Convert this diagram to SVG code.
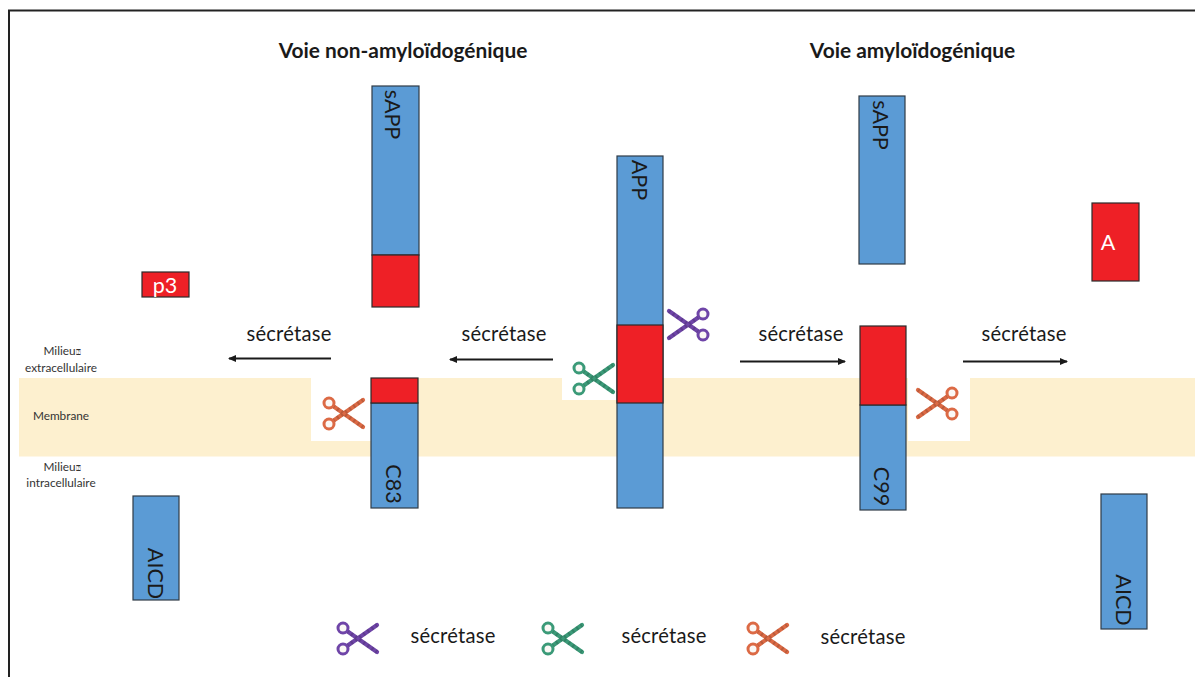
<svg xmlns="http://www.w3.org/2000/svg" width="1195" height="677" viewBox="0 0 1195 677">
<style>
text{font-family:"Lato","Liberation Sans",sans-serif;fill:#1a1a1a}
.t{font-size:20.2px;letter-spacing:.2px;text-anchor:middle}
.h{font-size:20.9px;font-weight:700;text-anchor:middle}
.s{font-size:11.8px;text-anchor:middle;fill:#333}
.l{font-size:21.5px;text-anchor:middle}
.b{fill:#5b9bd5;stroke:#2f3b47;stroke-width:1.2}
.r{fill:#ee2026;stroke:#2a2a2a;stroke-width:1.2}
.w{fill:#fff}
.c{stroke:#1a1a1a;stroke-width:2.2;fill:none}
.blade{fill:none;stroke-width:4.2;stroke-linecap:round}
.ring{fill:#fbf8f5;stroke-width:3}
.tex{fill:none;stroke:#000;stroke-opacity:.15;stroke-width:4.2;stroke-dasharray:2 3}
.ps{stroke:#6f45a8}.gs{stroke:#3b9a78}.os{stroke:#dc6a45}
</style>
<defs>
<marker id="a" markerWidth="8" markerHeight="8" refX="7" refY="3.5" orient="auto" markerUnits="userSpaceOnUse"><path d="M0 0L8 3.5L0 7z" fill="#1a1a1a"/></marker>
<symbol id="sc" overflow="visible"><path class="blade" d="M-9-7L21 14M-9 8L21-13"/><path class="tex" d="M-9-7L21 14M-9 8L21-13"/><circle class="ring" cx="-13" cy="-10" r="5"/><circle class="ring" cx="-13" cy="11" r="5"/></symbol>
</defs>
<path d="M9 677V10.500H1195" fill="none" stroke="#222" stroke-width="2"/>
<rect id="membrane" x="19" y="378" width="1176" height="78.500" fill="#fdf0cf"/>
<rect class="w" x="311" y="378" width="60" height="63"/>
<rect class="w" x="562" y="353" width="55" height="47"/>
<rect class="w" x="908" y="378" width="62" height="63"/>
<text class="h" x="403" y="57.500">Voie non-amyloïdogénique</text>
<text class="h" x="912.500" y="57.500">Voie amyloïdogénique</text>
<g id="labels">
<text class="s" x="62" y="355">Milieu<tspan font-family="DejaVu Sans" font-size="8">⍰</tspan></text>
<text class="s" x="61" y="372">extracellulaire</text>
<text class="s" x="61" y="420">Membrane</text>
<text class="s" x="62" y="471">Milieu<tspan font-family="DejaVu Sans" font-size="8">⍰</tspan></text>
<text class="s" x="61" y="487">intracellulaire</text>
</g>
<g id="connectors">
<path class="c" marker-end="url(#a)" d="M331 358.500H229"/>
<path class="c" marker-end="url(#a)" d="M553 359.500H450"/>
<path class="c" marker-end="url(#a)" d="M740 361.500H845"/>
<path class="c" marker-end="url(#a)" d="M963 361.500H1067"/>
</g>
<g id="sAPP-left"><rect class="b" x="372" y="86" width="47" height="169"/><rect class="r" x="372" y="255" width="47" height="52"/><text class="l" transform="translate(385 114.500) rotate(90)">sAPP</text></g>
<g id="C83"><rect class="b" x="371" y="403" width="47" height="105"/><rect class="r" x="371" y="378" width="47" height="25"/><text class="l" transform="translate(385.500 484) rotate(90)">C83</text></g>
<g id="APP"><rect class="b" x="617" y="156" width="46" height="352"/><rect class="r" x="617" y="325" width="46" height="78"/><text class="l" transform="translate(631.500 180) rotate(90)">APP</text></g>
<g id="sAPP-right"><rect class="b" x="859" y="96" width="46" height="168"/><text class="l" transform="translate(872.500 125) rotate(90)">sAPP</text></g>
<g id="C99"><rect class="b" x="860" y="405" width="46" height="105"/><rect class="r" x="860" y="326" width="46" height="79"/><text class="l" transform="translate(873.500 486.500) rotate(90)">C99</text></g>
<g id="A"><rect class="r" x="1092" y="203" width="47" height="78"/><text class="l" x="1108" y="250" style="fill:#fff">A</text></g>
<g id="AICD-right"><rect class="b" x="1101" y="494" width="46" height="135"/><text class="l" transform="translate(1115.500 600) rotate(90)">AICD</text></g>
<g id="AICD-left"><rect class="b" x="133" y="496" width="46" height="104"/><text class="l" transform="translate(147.500 573.500) rotate(90)">AICD</text></g>
<g id="p3"><rect class="r" x="142" y="272" width="47" height="25"/><text class="l" x="165" y="293" style="fill:#fff">p3</text></g>
<g id="enzyme-labels">
<text class="t" x="289" y="340.500">sécrétase</text>
<text class="t" x="504" y="340.500">sécrétase</text>
<text class="t" x="801" y="340.500">sécrétase</text>
<text class="t" x="1024" y="340.500">sécrétase</text>
<text class="t" x="453" y="642.500">sécrétase</text>
<text class="t" x="664" y="642.500">sécrétase</text>
<text class="t" x="863" y="643.500">sécrétase</text>
</g>
<g id="scissors">
<use href="#sc" class="ps" transform="translate(690 324) scale(-1 1)"/>
<use href="#sc" class="gs" transform="translate(592 378)"/>
<use href="#sc" class="os" transform="translate(342 413)"/>
<use href="#sc" class="os" transform="translate(939 403) scale(-1 1)"/>
<use href="#sc" class="ps" transform="translate(356 638)"/>
<use href="#sc" class="gs" transform="translate(561 638)"/>
<use href="#sc" class="os" transform="translate(766 638)"/>
</g>
</svg>
